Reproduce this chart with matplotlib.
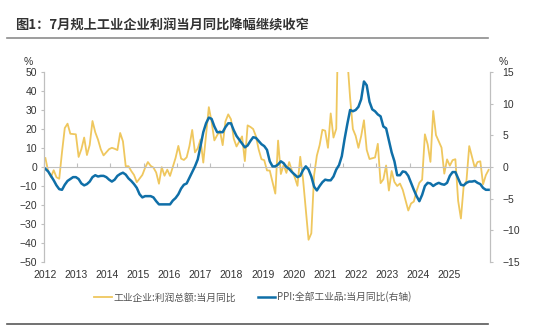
import numpy as np
import pandas as pd
import matplotlib
matplotlib.use("Agg")
import matplotlib.pyplot as plt
from matplotlib.lines import Line2D

plt.rcParams['font.family'] = ['Liberation Sans', 'Noto Sans CJK SC', 'DejaVu Sans']

nan = np.nan

# 工业企业利润总额当月同比（%），2012-03 ~ 2025-07，1月无单月数据
profit_2012 = [4.7, -2.2, -5.3, -1.7, -5.4, -6.2, 7.8, 20.5, 22.8, 17.5]
profit_2013 = [nan, 17.2, 5.3, 9.4, 15.5, 6.3, 11.6, 24.2, 18.3, 14.4, 9.3, 6.1]
profit_2014 = [nan, 9.4, 10.1, 9.6, 8.9, 17.9, 13.5, 0.4, 0.4, -2.1, -4.2, -8.0]
profit_2015 = [nan, -4.2, -0.4, 2.6, 0.6, -0.3, -2.9, -8.8, -0.1, -4.6, -1.4, -4.7]
profit_2016 = [nan, 4.8, 11.1, 4.4, 3.7, 5.1, 11.0, 19.5, 7.7, 9.8, 14.5, 2.3]
profit_2017 = [nan, 31.5, 23.8, 14.0, 16.7, 19.1, 11.5, 24.0, 27.7, 25.1, 14.9, 10.8]
profit_2018 = [nan, 16.1, 3.1, 21.9, 21.1, 20.0, 16.2, 9.2, 4.1, 3.6, -1.8, -1.9]
profit_2019 = [nan, -14.0, 13.9, -3.7, 1.1, -3.1, 2.6, -2.0, -5.3, -9.9, 5.4, -6.3]
profit_2020 = [nan, -38.3, -34.9, -4.3, 6.0, 11.5, 19.6, 19.1, 10.1, 28.2, 15.5, 20.1]
profit_2021 = [nan, 178.9, 92.3, 57.0, 36.4, 20.0, 16.4, 10.1, 16.3, 24.6, 9.0, 4.2]
profit_2022 = [nan, 5.0, 12.2, -8.5, -6.5, 0.8, -12.4, -2.1, -7.9, -10.0, -8.7, -12.0]
profit_2023 = [nan, -22.9, -19.2, -18.2, -12.6, -8.3, -6.7, 17.2, 11.9, 2.7, 29.5, 16.8]
profit_2024 = [nan, 10.2, -3.5, 4.0, 0.7, 3.6, 4.1, -17.8, -27.1, -10.0, -7.3, 11.0]
profit_2025 = [nan, -0.3, 2.6, 3.0, -9.1, -4.3, -1.5]

# PPI 全部工业品当月同比（%）
ppi_2012 = [-0.3, -0.7, -1.4, -2.1, -2.9, -3.5, -3.6, -2.8, -2.2, -1.9]
ppi_2013 = [-1.6, -1.6, -1.9, -2.6, -2.9, -2.7, -2.3, -1.6, -1.3, -1.5, -1.4, -1.4]
ppi_2014 = [-1.6, -2.0, -2.3, -2.0, -1.4, -1.1, -0.9, -1.2, -1.8, -2.2, -2.7, -3.3]
ppi_2015 = [-4.3, -4.8, -4.6, -4.6, -4.6, -4.8, -5.4, -5.9, -5.9, -5.9, -5.9, -5.9]
ppi_2016 = [-5.3, -4.9, -4.3, -3.4, -2.8, -2.6, -1.7, -0.8, 0.1, 1.2, 3.3, 5.5]
ppi_2017 = [6.9, 7.8, 7.6, 6.4, 5.5, 5.5, 5.5, 6.3, 6.9, 6.9, 5.8, 4.9]
ppi_2018 = [4.3, 3.7, 3.1, 3.4, 4.1, 4.7, 4.6, 4.1, 3.6, 3.3, 2.7, 0.9]
ppi_2019 = [0.1, 0.1, 0.4, 0.9, 0.6, 0.0, -0.3, -0.8, -1.2, -1.6, -1.4, -0.5]
ppi_2020 = [0.1, -0.4, -1.5, -3.1, -3.7, -3.0, -2.4, -2.0, -2.1, -2.1, -1.5, -0.4]
ppi_2021 = [0.3, 1.7, 4.4, 6.8, 9.0, 8.8, 9.0, 9.5, 10.7, 13.5, 12.9, 10.3]
ppi_2022 = [9.1, 8.8, 8.3, 8.0, 6.4, 6.1, 4.2, 2.3, 0.9, -1.3, -1.3, -0.7]
ppi_2023 = [-0.8, -1.4, -2.5, -3.6, -4.6, -5.4, -4.4, -3.0, -2.5, -2.6, -3.0, -2.7]
ppi_2024 = [-2.5, -2.7, -2.8, -2.5, -1.4, -0.8, -0.8, -1.8, -2.8, -2.9, -2.5, -2.3]
ppi_2025 = [-2.3, -2.2, -2.5, -2.7, -3.3, -3.6, -3.6]

years = [str(y) for y in range(2012, 2026)]

profit = np.array(profit_2012 + profit_2013 + profit_2014 + profit_2015 + profit_2016
                  + profit_2017 + profit_2018 + profit_2019 + profit_2020 + profit_2021
                  + profit_2022 + profit_2023 + profit_2024 + profit_2025)
ppi = np.array(ppi_2012 + ppi_2013 + ppi_2014 + ppi_2015 + ppi_2016 + ppi_2017
               + ppi_2018 + ppi_2019 + ppi_2020 + ppi_2021 + ppi_2022 + ppi_2023
               + ppi_2024 + ppi_2025)
months = pd.period_range('2012-03', '2025-07', freq='M')
x = np.arange(len(months))
has = ~np.isnan(profit)

YELLOW = '#EFC75E'
BLUE = '#0F6FA8'
GRID = '#BFBFBF'
TXT = '#333333'

fig = plt.figure(figsize=(5.54, 3.28), dpi=100)
ax = fig.add_axes([44 / 554, 1 - 262 / 328, 446 / 554, 190 / 328])
ax2 = ax.twinx()

ax.plot(x[has], profit[has], color=YELLOW, lw=1.3, label='工业企业:利润总额:当月同比')
ax2.plot(x, ppi, color=BLUE, lw=1.8, label='PPI:全部工业品:当月同比(右轴)')

ax.set_xlim(-0.5, len(months) - 0.5)
ax.set_ylim(-50, 50)
ax2.set_ylim(-15, 15)
ax.set_yticks(np.arange(-50, 51, 10))
ax2.set_yticks(np.arange(-15, 16, 5))

# x axis sits on zero, ticks every 12 months
ax.spines['bottom'].set_position(('data', 0))
for a in (ax, ax2):
    a.spines['top'].set_visible(False)
    a.spines['bottom'].set_color(GRID)
    a.spines['left'].set_color(GRID)
    a.spines['right'].set_color(GRID)
    a.spines['bottom'].set_linewidth(0.8)
    a.spines['left'].set_linewidth(0.8)
    a.spines['right'].set_linewidth(0.8)
ax2.spines['bottom'].set_visible(False)
ax.set_xticks(np.arange(-0.5, len(months), 12))
ax.tick_params(axis='x', direction='in', length=3, color=GRID, labelbottom=False)
ax.tick_params(axis='y', length=2, color=GRID, labelsize=7.5, labelcolor=TXT, pad=3)
ax2.tick_params(axis='y', length=2, color=GRID, labelsize=7.5, labelcolor=TXT, pad=7)

# year labels below the plot
sec = ax.secondary_xaxis('bottom')
sec.set_xticks(np.linspace(-0.25, 145.9, len(years)), years)
sec.tick_params(length=0, labelsize=7.5, labelcolor=TXT, pad=6)
sec.spines['bottom'].set_visible(False)

fig.text(28 / 554, 1 - 62 / 328, '%', fontsize=7.5, color=TXT, ha='center', va='center')
fig.text(503 / 554, 1 - 62 / 328, '%', fontsize=7.5, color=TXT, ha='center', va='center')

h1, l1 = ax.get_legend_handles_labels()
h2, l2 = ax2.get_legend_handles_labels()
fig.legend(h1 + h2, l1 + l2, loc='center', bbox_to_anchor=(253 / 554, 1 - 297 / 328),
           ncol=2, frameon=False, handlelength=1.8, handletextpad=0.2, columnspacing=2.2,
           prop={'family': ['Noto Sans CJK SC'], 'size': 7}, labelcolor='#555555')

fig.text(15 / 554, 1 - 26 / 328, '图1：7月规上工业企业利润当月同比降幅继续收窄',
         family=['Noto Sans CJK SC'], fontweight='bold', fontsize=9.5, color=TXT,
         ha='left', va='center')
fig.add_artist(Line2D([7 / 554, 488 / 554], [1 - 38 / 328] * 2, transform=fig.transFigure,
                      color='#8C8C8C', lw=1.2))
fig.add_artist(Line2D([7 / 554, 488 / 554], [1 - 324 / 328] * 2, transform=fig.transFigure,
                      color='#595959', lw=1.2))

fig.savefig('out.png', dpi=100)
